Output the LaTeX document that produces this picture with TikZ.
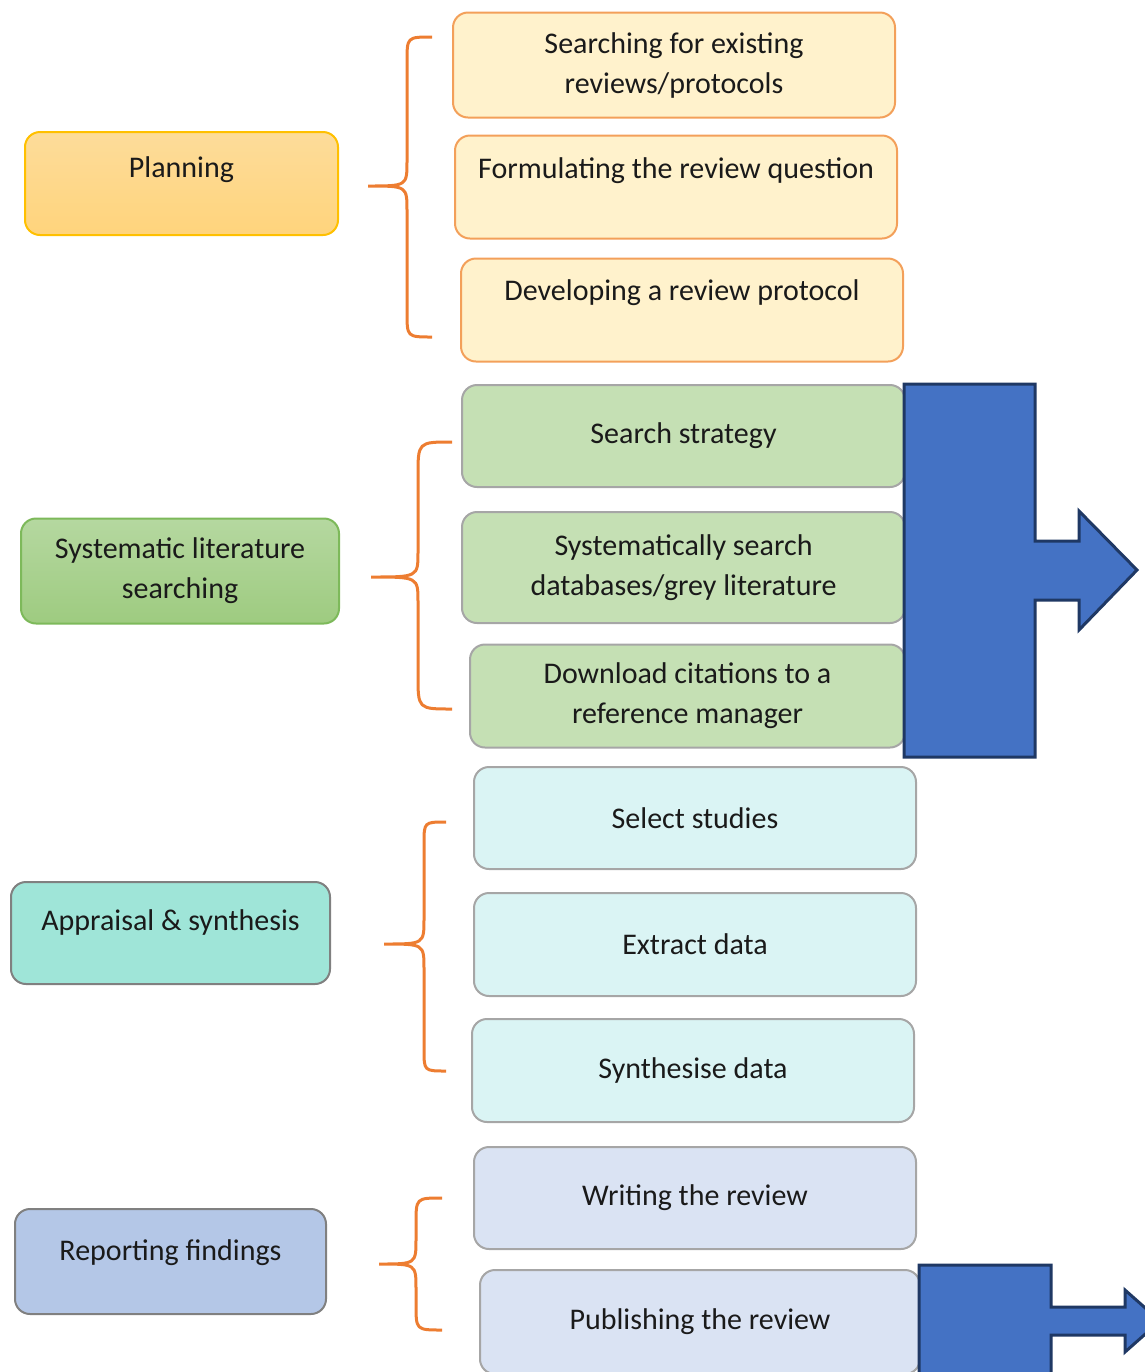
\documentclass[tikz,border=0pt]{standalone}
\usepackage{fontspec}
\setmainfont{Carlito}
\usepackage{tikz}
\usetikzlibrary{positioning}
\definecolor{plantop}{HTML}{FDDC9A}
\definecolor{planbot}{HTML}{FFD47C}
\definecolor{planline}{HTML}{FFC000}
\definecolor{planfill}{HTML}{FFF2CC}
\definecolor{planedge}{HTML}{F3A05A}
\definecolor{searchtop}{HTML}{B5D8A0}
\definecolor{searchbot}{HTML}{9ECB80}
\definecolor{searchline}{HTML}{7DB95A}
\definecolor{searchfill}{HTML}{C5E0B4}
\definecolor{apprfill}{HTML}{9FE5D8}
\definecolor{apprsub}{HTML}{DAF4F4}
\definecolor{repfill}{HTML}{B4C7E7}
\definecolor{repsub}{HTML}{DAE3F3}
\definecolor{greyedge}{HTML}{A6A6A6}
\definecolor{bracecol}{HTML}{ED7D31}
\definecolor{arrowfill}{HTML}{4472C4}
\definecolor{arrowline}{HTML}{1F3864}
\definecolor{inktext}{HTML}{1A1A1A}
\tikzset{
  stage/.style={draw, rounded corners=7.5pt, align=center, inner sep=0pt, line width=1pt, text=inktext, font=\fontsize{15}{20}\selectfont},
  task/.style={stage, minimum width=221pt, minimum height=51.5pt},
  lifted/.style={text height=10pt, text depth=#1},
  bracket/.style={draw=bracecol, line width=1.5pt},
  bigarrow/.style={fill=arrowfill, draw=arrowline, line width=1.5pt, line join=miter}
}
% ends x, spine x, tip x, top y, middle y, bottom y
\newcommand{\stagebrace}[6]{%
  \draw[bracket] (#1,#4) .. controls (#2,#4) .. (#2,#4+#1-#2) -- (#2,#5-25)
    .. controls (#2,#5) .. (#3,#5) .. controls (#2,#5) .. (#2,#5+25)
    -- (#2,#6-#1+#2) .. controls (#2,#6) .. (#1,#6);}

\begin{document}
\begin{tikzpicture}[x=0.5pt, y=-0.5pt]
\useasboundingbox (0,0) rectangle (1145,1372);
\clip (0,0) rectangle (1145,1372);
% planning
\node[stage, draw=planline, top color=plantop, bottom color=planbot, minimum width=156.5pt, minimum height=51.5pt, lifted=16pt] (planning) at (181.5,183.5) {Planning};
\node[task, draw=planedge, fill=planfill, minimum height=52.5pt] (existing) at (674,65) {Searching for existing\\reviews/protocols};
\node[task, draw=planedge, fill=planfill, lifted=19pt] (question) at (676,187) {Formulating the review question};
\node[task, draw=planedge, fill=planfill, lifted=20pt] (protocol) at (682,310) {Developing a review protocol};
\stagebrace{432}{407}{368}{37}{186}{337}
% searching
\node[stage, draw=searchline, top color=searchtop, bottom color=searchbot, minimum width=159pt, minimum height=52.5pt] (searching) at (180,571) {Systematic literature\\searching};
\node[task, draw=greyedge, fill=searchfill, minimum width=221.5pt, minimum height=51pt] (strategy) at (683.5,436) {Search strategy};
\node[task, draw=greyedge, fill=searchfill, minimum width=221.5pt, minimum height=55.5pt] (databases) at (683.5,567.5) {Systematically search\\databases/grey literature};
\node[task, draw=greyedge, fill=searchfill, minimum width=217.5pt] (citations) at (687.5,696) {Download citations to a\\reference manager};
\stagebrace{452}{418}{371}{442}{577}{709}
\draw[bigarrow] (904,384) -- (1035,384) -- (1035,541) -- (1079,541) -- (1079,511) -- (1137,570)
  -- (1079,630) -- (1079,600) -- (1035,600) -- (1035,757) -- (904,757) -- cycle;
% appraisal
\node[stage, draw=gray, fill=apprfill, minimum width=159.5pt, minimum height=51pt, lifted=13pt] (appraisal) at (170.5,933) {Appraisal \& synthesis};
\node[task, draw=greyedge, fill=apprsub, minimum height=51pt] (select) at (695,818) {Select studies};
\node[task, draw=greyedge, fill=apprsub, below=11pt of select] (extract) {Extract data};
\node[task, draw=greyedge, fill=apprsub] (synthesise) at (693,1070.5) {Synthesise data};
\stagebrace{446}{424}{384}{822}{944}{1071}
% reporting
\node[stage, draw=gray, fill=repfill, minimum width=155.5pt, minimum height=52.5pt, lifted=11.5pt] (reporting) at (170.5,1261.5) {Reporting findings};
\node[task, draw=greyedge, fill=repsub, minimum height=51pt] (writing) at (695,1198) {Writing the review};
\node[task, draw=greyedge, fill=repsub, minimum width=220pt, minimum height=52pt] (publishing) at (700,1322) {Publishing the review};
\stagebrace{442}{416}{379}{1198}{1264}{1330}
\draw[bigarrow] (919,1265) -- (1051,1265) -- (1051,1307) -- (1125,1307) -- (1125,1290) -- (1160,1321)
  -- (1125,1352) -- (1125,1335) -- (1051,1335) -- (1051,1390) -- (919,1390) -- cycle;
\end{tikzpicture}
\end{document}
